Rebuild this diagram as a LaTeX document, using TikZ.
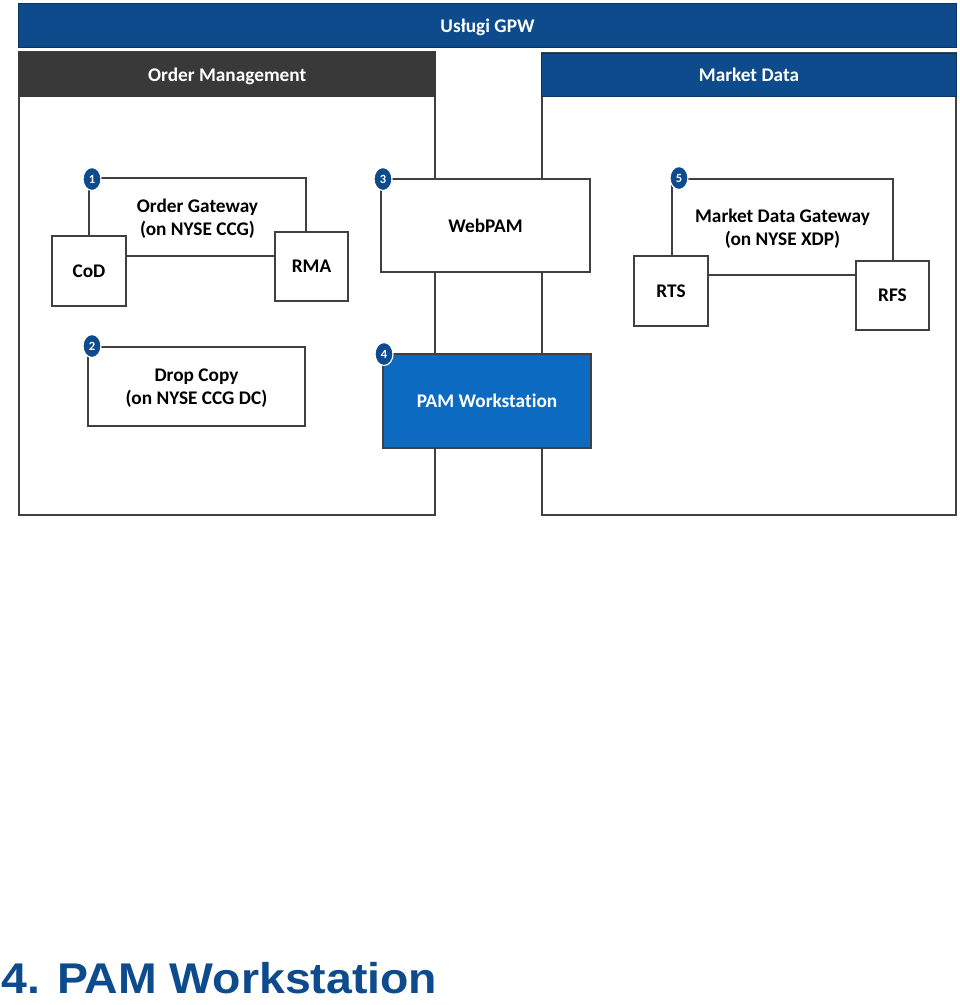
\documentclass[tikz,border=0pt]{standalone}
\usepackage{fontspec}
\setmainfont{Carlito}[Ligatures=NoCommon]
\newfontfamily\arialf{Liberation Sans}
\usetikzlibrary{shapes.geometric}
\definecolor{gpwblue}{HTML}{0D4B8D}
\definecolor{pamblue}{HTML}{0C6BC0}
\definecolor{hdrgray}{HTML}{3A3939}
\definecolor{linegray}{HTML}{404040}
\tikzset{
  panel/.style={draw=linegray, line width=1.6pt, fill=none},
  hdr/.style={rectangle, inner sep=0pt, anchor=north west, text=white, text depth=0pt, font=\fontsize{19.3}{22}\selectfont\bfseries},
  box/.style={rectangle, draw=linegray, line width=1.6pt, fill=white, inner sep=0pt, align=center, text depth=0pt, font=\fontsize{19.3}{22.5}\selectfont\bfseries},
  badge/.style={ellipse, fill=gpwblue, draw=white, line width=1.2pt, minimum width=18pt, minimum height=23pt, inner sep=0pt, text=white, font=\fontsize{12.5}{12}\selectfont\bfseries}
}
\begin{document}
\begin{tikzpicture}[x=1pt,y=-1pt]
\useasboundingbox (0,0) rectangle (960,1005);
% banner
\node[hdr, fill=gpwblue, draw=gpwblue!70!black, line width=1pt, minimum width=938pt, minimum height=44pt] (banner) at (18,3) {Usługi GPW};
% panels
\draw[panel] (19,52) rectangle (435,515);
\draw[panel] (542,53) rectangle (956,515);
\node[hdr, fill=hdrgray, minimum width=418pt, minimum height=45pt] (omhdr) at (18,52) {Order Management};
\node[hdr, fill=gpwblue, draw=gpwblue!70!black, line width=1pt, minimum width=415pt, minimum height=43pt] (mdhdr) at (541,53) {Market Data};
% gateways
\node[box, fill=none, minimum width=217pt, minimum height=78pt] (ogw) at (197.5,217) {Order Gateway\\(on NYSE CCG)};
\node[box, fill=none, minimum width=221pt, minimum height=96pt] (mdg) at (782.5,227) {Market Data Gateway\\(on NYSE XDP)};
% small boxes
\node[box, minimum width=74pt, minimum height=70pt] (cod) at (89,271) {CoD};
\node[box, minimum width=73pt, minimum height=69pt] (rma) at (311.5,266.5) {RMA};
\node[box, minimum width=74pt, minimum height=70pt] (rts) at (671,291) {RTS};
\node[box, minimum width=73pt, minimum height=69pt] (rfs) at (892.5,295.5) {RFS};
% main boxes
\node[box, minimum width=209pt, minimum height=93pt] (webpam) at (485.5,225.5) {WebPAM};
\node[box, fill=pamblue, text=white, minimum width=208pt, minimum height=94pt] (pam) at (487,401) {PAM Workstation};
\node[box, minimum width=217pt, minimum height=79pt] (drop) at (196.5,386.5) {Drop Copy\\(on NYSE CCG DC)};
% badges
\node[badge] (b1) at (92,179) {1};
\node[badge] (b2) at (92,346) {2};
\node[badge] (b3) at (383,179) {3};
\node[badge] (b4) at (384,354) {4};
\node[badge] (b5) at (679,178) {5};
% title
\node[anchor=base west, inner sep=0pt, text=gpwblue, font=\arialf\fontsize{43}{48}\selectfont\bfseries] (title) at (1,993) {\scalebox{1.08}[1]{4. PAM Workstation}};
\end{tikzpicture}
\end{document}
